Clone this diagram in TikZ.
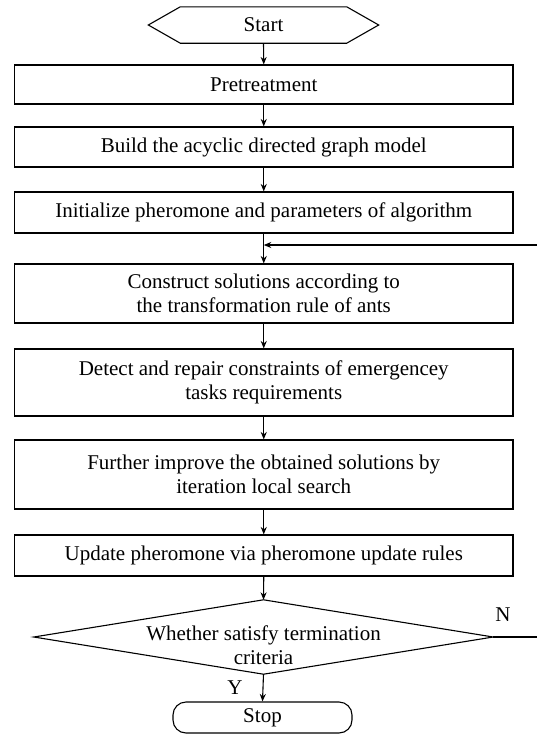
\documentclass[tikz,border=0pt]{standalone}
\usepackage{fontspec}
\setmainfont{Liberation Serif}
\usetikzlibrary{arrows.meta}
\begin{document}
\begin{tikzpicture}[x=1pt,y=-1pt,
  every node/.style={font=\fontsize{21}{24.5}\selectfont, inner sep=0pt},
  procbox/.style={draw, line width=1.1pt, minimum width=498.5pt, align=center},
  flow/.style={line width=1.1pt, -{Stealth[length=7.5pt,width=6pt]}},
  plain/.style={line width=1.1pt}]
\useasboundingbox (0,0) rectangle (537,734);
% start
\node[minimum width=230pt, minimum height=36pt] (start) at (263.5,25) {Start};
\draw[plain] ([xshift=32pt]start.north west) -- ([xshift=-32pt]start.north east) -- (start.east)
  -- ([xshift=-32pt]start.south east) -- ([xshift=32pt]start.south west) -- (start.west) -- cycle;
% process boxes
\node[procbox, minimum height=39pt] (pre) at (263.75,84.5) {Pretreatment};
\node[procbox, minimum height=40pt] (build) at (263.75,147) {Build the acyclic directed graph model};
\node[procbox, minimum height=41pt] (init) at (263.75,212.5) {Initialize pheromone and parameters of algorithm};
\node[procbox, minimum height=59pt] (cons) at (263.75,293.5) {Construct solutions according to\\the transformation rule of ants};
\node[procbox, minimum height=67pt] (det) at (263.75,382.5) {Detect and repair constraints of emergencey\\tasks requirements};
\node[procbox, minimum height=69pt] (fur) at (263.75,474.5) {Further improve the obtained solutions by\\iteration local search};
\node[procbox, minimum height=41pt] (upd) at (263.75,555.5) {Update pheromone via pheromone update rules};
% decision
\node[minimum width=459pt, minimum height=74pt] (dec) at (263.5,637) {};
\draw[plain] (dec.north) -- (dec.east) -- (dec.south) -- (dec.west) -- cycle;
\node[align=center] (dectxt) at (263.5,645) {Whether satisfy termination\\criteria};
% stop
\node[draw, plain, rounded corners=13pt, minimum width=179pt, minimum height=31pt] (stop) at (262.5,717.5) {Stop};
% connectors
\draw[flow] (start.south) -- (pre.north);
\draw[flow] (pre.south) -- (build.north);
\draw[flow] (build.south) -- (init.north);
\draw[flow] (init.south) -- (cons.north);
\draw[flow] (cons.south) -- (det.north);
\draw[flow] (det.south) -- (fur.north);
\draw[flow] (fur.south) -- (upd.north);
\draw[flow] (upd.south) -- (dec.north);
\draw[flow] (dec.south) -- (stop.north);
% feedback
\coordinate (fbin) at (537,245);
\coordinate (fbend) at (init.south |- fbin);
\draw[flow] (fbin) -- (fbend);
\coordinate (nout) at (537,637);
\draw[plain] (dec.east) -- (nout);
% labels
\node (ylab) at (235,688) {Y};
\node (nlab) at (503,615) {N};
\end{tikzpicture}
\end{document}
